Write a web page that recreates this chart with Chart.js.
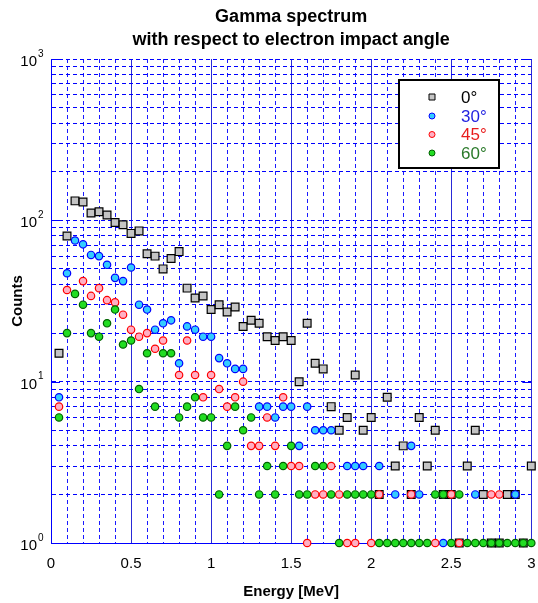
<!DOCTYPE html>
<html><head><meta charset="utf-8">
<style>html,body{margin:0;padding:0;background:#fff;}#wrap{width:538px;height:603px;}</style>
<script src="https://cdn.jsdelivr.net/npm/chart.js@4.4.1/dist/chart.umd.min.js"></script>
</head><body><div id="wrap"><canvas id="c" width="538" height="603"></canvas></div>
<script>
const energies = [0.05,0.1,0.15,0.2,0.25,0.3,0.35,0.4,0.45,0.5,0.55,0.6,0.65,0.7,0.75,0.8,0.85,0.9,0.95,1,
  1.05,1.1,1.15,1.2,1.25,1.3,1.35,1.4,1.45,1.5,1.55,1.6,1.65,1.7,1.75,1.8,1.85,1.9,1.95,2,
  2.05,2.1,2.15,2.2,2.25,2.3,2.35,2.4,2.45,2.5,2.55,2.6,2.65,2.7,2.75,2.8,2.85,2.9,2.95,3];
const counts0 = [15,80,132,130,111,113,108,97,94,83, 86,62,60,50,58,64,38,33,34,28,
  30,27,29,22,24,23,19,18,19,18, 10,23,13,12,7,5,6,11,5,6,
  2,8,3,4,2,6,3,5,2,2, 1,3,5,2,1,1,2,2,1,3];
const counts30 = [8,47,75,71,61,60,53,44,42,51, 30,28,21,23,24,13,22,21,19,19,
  14,13,12,12,null,7,7,6,7,7, 4,7,5,5,5,null,3,3,3,null,
  3,null,2,null,4,2,null,null,1,null, null,null,2,null,null,null,null,2,null,null];
const counts45 = [7,37,null,42,34,38,32,31,26,21, 19,20,16,18,null,11,18,11,8,11,
  9,7,8,10,4,4,6,4,8,3, 3,1,2,2,3,2,1,1,null,1,
  2,null,null,null,2,null,null,1,null,2, 1,null,null,null,2,2,null,null,null,null];
const counts60 = [6,20,35,30,20,19,23,28,17,18, 9,15,7,15,15,6,7,8,6,6,
  2,4,7,5,6,2,3,2,3,4, 2,2,3,3,2,1,2,2,2,2,
  1,1,1,1,1,1,1,2,2,1, 2,1,1,1,1,1,1,1,1,1];
const seriesLabels = ['0°','30°','45°','60°'];
const xTickValues = [0,0.5,1,1.5,2,2.5,3];
const xTickLabels = ['0','0.5','1','1.5','2','2.5','3'];
const xGridValues = [0,0.1,0.2,0.3,0.4,0.5,0.6,0.7,0.8,0.9,1,1.1,1.2,1.3,1.4,1.5,1.6,1.7,1.8,1.9,2,
  2.1,2.2,2.3,2.4,2.5,2.6,2.7,2.8,2.9,3];
const yDecades = [1,10,100,1000];
const yTickExponents = ['0','1','2','3'];
const yGridValues = [1,2,3,4,5,6,7,8,9,10,20,30,40,50,60,70,80,90,100,200,300,400,500,600,700,800,900,1000];

const FONT = "'Liberation Sans', Arial, sans-serif";
const isMajorX = v => xTickValues.some(t => Math.abs(t - v) < 1e-9);
const toPts = arr => energies.map((e, i) => ({x: e, y: arr[i]})).filter(p => p.y !== null);

const styles = [
  {shape:'rect', r:5.5, fill:'#c4c4c4', stroke:'#000000', text:'#000000'},
  {shape:'circle', r:3.7, fill:'#33ccff', stroke:'#0000ff', text:'#1f1fe0'},
  {shape:'circle', r:3.7, fill:'#ffb0c4', stroke:'#ff0000', text:'#e81c1c'},
  {shape:'circle', r:3.7, fill:'#22dd22', stroke:'#006000', text:'#2a7a2a'}
];
const seriesData = [counts0, counts30, counts45, counts60];

const decor = {
  id: 'decor',
  beforeDatasetsDraw(chart) {
    const {ctx, chartArea: a, scales: {y}} = chart;
    ctx.save();
    ctx.strokeStyle = '#0000ff'; ctx.lineWidth = 1;
    yDecades.forEach(v => {
      const py = Math.round(y.getPixelForValue(v)) + 0.5;
      ctx.beginPath();
      ctx.moveTo(a.left, py); ctx.lineTo(a.left + 9, py);
      ctx.moveTo(a.right - 9, py); ctx.lineTo(a.right, py);
      ctx.stroke();
    });
    ctx.restore();
  },
  afterDraw(chart) {
    const {ctx, scales: {y}} = chart;
    ctx.save();
    ctx.fillStyle = '#000';
    yDecades.forEach((v, i) => {
      const py = y.getPixelForValue(v);
      ctx.font = '15px ' + FONT; ctx.textAlign = 'right'; ctx.textBaseline = 'middle';
      ctx.fillText('10', 37, py + 3);
      ctx.font = '10px ' + FONT; ctx.textAlign = 'left';
      ctx.fillText(yTickExponents[i], 38, py - 5);
    });
    // legend
    const bx = 399, by = 80, bw = 100, bh = 88;
    ctx.fillStyle = '#fff'; ctx.fillRect(bx, by, bw, bh);
    ctx.strokeStyle = '#000'; ctx.lineWidth = 2; ctx.strokeRect(bx, by, bw, bh);
    const rows = [97, 116, 134.5, 153];
    seriesLabels.forEach((lab, i) => {
      const s = styles[i]; const cy = rows[i]; const cx = 432;
      ctx.lineWidth = 1; ctx.fillStyle = s.fill; ctx.strokeStyle = s.stroke;
      ctx.beginPath();
      if (s.shape === 'rect') ctx.rect(cx - 3, cy - 3, 6, 6);
      else ctx.arc(cx, cy, 3, 0, Math.PI * 2);
      ctx.fill(); ctx.stroke();
      ctx.fillStyle = s.text; ctx.font = '17px ' + FONT;
      ctx.textAlign = 'left'; ctx.textBaseline = 'middle';
      ctx.fillText(lab, 461, cy + 1);
    });
    ctx.restore();
  }
};

new Chart(document.getElementById('c'), {
  type: 'scatter',
  data: {
    datasets: seriesData.map((arr, i) => ({
      label: seriesLabels[i],
      data: toPts(arr),
      pointStyle: styles[i].shape,
      pointRadius: styles[i].r,
      pointHoverRadius: styles[i].r,
      pointBackgroundColor: styles[i].fill,
      pointBorderColor: styles[i].stroke,
      pointBorderWidth: 1.2,
      showLine: false,
      clip: false,
      order: 3 - i
    }))
  },
  options: {
    responsive: false,
    animation: false,
    devicePixelRatio: 1,
    layout: {padding: {left: 0, right: 3, top: 0, bottom: 0}},
    plugins: {
      legend: {display: false},
      tooltip: {enabled: false},
      title: {
        display: true, fullSize: false,
        text: ['Gamma spectrum', 'with respect to electron impact angle'],
        color: '#000',
        font: {family: FONT, size: 18, weight: 'bold', lineHeight: 1.25},
        padding: {top: 6, bottom: 8}
      }
    },
    scales: {
      x: {
        type: 'linear', min: 0, max: 3,
        afterBuildTicks: s => { s.ticks = xGridValues.map(v => ({value: v})); },
        afterFit: s => { s.height = 60; s.paddingLeft = 0; s.paddingRight = 0; },
        ticks: {
          autoSkip: false, maxRotation: 0, padding: 12, color: '#000',
          font: {family: FONT, size: 15},
          callback: v => { const i = xTickValues.findIndex(t => Math.abs(t - v) < 1e-9); return i >= 0 ? xTickLabels[i] : ''; }
        },
        grid: {drawTicks: false, lineWidth: 1, color: c => (c.tick && isMajorX(c.tick.value)) ? '#2a2ad8' : '#1a1aff'},
        border: {display: true, color: '#0000ff', width: 1, dash: c => (c.tick && !isMajorX(c.tick.value)) ? [4, 3] : []},
        title: {display: true, text: 'Energy [MeV]', color: '#000', font: {family: FONT, size: 15, weight: 'bold'}, padding: {top: 0, bottom: 2}}
      },
      y: {
        type: 'logarithmic', min: 1, max: 1000,
        afterBuildTicks: s => { s.ticks = yGridValues.map(v => ({value: v})); },
        afterFit: s => { s.width = 51; s.paddingTop = 0; s.paddingBottom = 0; },
        ticks: {autoSkip: false, callback: () => '', font: {family: FONT, size: 15}},
        grid: {drawTicks: false, lineWidth: 1, color: '#0000ff'},
        border: {display: true, color: '#0000ff', width: 1, dash: c => c.tick ? [4, 3] : []},
        title: {display: true, text: 'Counts', color: '#000', font: {family: FONT, size: 15, weight: 'bold'}, padding: {top: 9, bottom: 0}}
      }
    }
  },
  plugins: [decor]
});
</script>
</body></html>
